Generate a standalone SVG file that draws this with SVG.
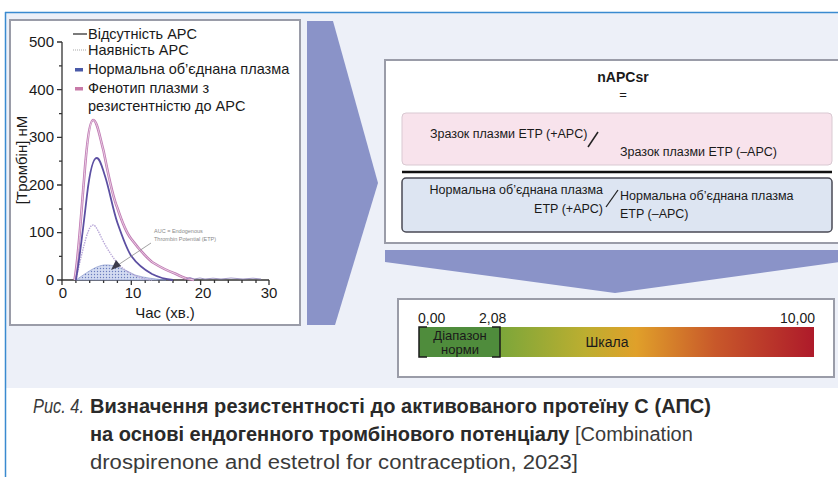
<svg xmlns="http://www.w3.org/2000/svg" width="838" height="477" viewBox="0 0 838 477">
<defs>
<style>
.t{font-family:"Liberation Sans",Arial,sans-serif;fill:#1a1a1a}
.ax{stroke:#333;stroke-width:1.3;fill:none}
.frame{fill:#fff;stroke:#9a9ca8;stroke-width:2}
.arrow{fill:#8a93c8}
.cap{font-family:"Liberation Sans",Arial,sans-serif;fill:#3a3a3a;font-size:20px}
.capb{font-weight:bold;fill:#2a2a2a}
</style>
<pattern id="dots" width="3" height="3" patternUnits="userSpaceOnUse">
<rect width="3" height="3" fill="#d3dbf1"/>
<circle cx="1.5" cy="1.5" r="0.7" fill="#6a7cbd"/>
</pattern>
<linearGradient id="scaleGrad" x1="0" y1="0" x2="1" y2="0">
<stop offset="0" stop-color="#5a9a3e"/>
<stop offset="0.2" stop-color="#7aa63a"/>
<stop offset="0.42" stop-color="#bcae30"/>
<stop offset="0.55" stop-color="#e0a02a"/>
<stop offset="0.75" stop-color="#c8582a"/>
<stop offset="1" stop-color="#ae1a2a"/>
</linearGradient>
</defs>

<!-- background -->
<rect x="5" y="12" width="833" height="376" fill="#edf0f8"/>
<line x1="5" y1="12.5" x2="838" y2="12.5" stroke="#3a8ad0" stroke-width="1.5"/>
<line x1="5.5" y1="12" x2="5.5" y2="477" stroke="#3a8ad0" stroke-width="1.5"/>

<!-- chart panel -->
<g id="chart">
<rect class="frame" x="10" y="20" width="290" height="305"/>
<path class="ax" d="M62,42 V280 H269"/>
<path class="ax" d="M57,42H62M57,89.7H62M57,137.4H62M57,185H62M57,232.7H62M57,280H62"/>
<path class="ax" d="M59,65.9H62M59,113.6H62M59,161.2H62M59,209H62M59,256.4H62" stroke-width="1"/>
<path class="ax" d="M62,280v5M131.3,280v5M200.6,280v5M269,280v5"/>
<path class="ax" stroke-width="1" d="M75.9,280v3M89.7,280v3M103.6,280v3M117.4,280v3M145.2,280v3M159,280v3M173,280v3M186.7,280v3M214.5,280v3M228.3,280v3M242,280v3M256,280v3"/>
<g class="t" font-size="15" text-anchor="end">
<text x="54" y="47">500</text>
<text x="54" y="95">400</text>
<text x="54" y="142">300</text>
<text x="54" y="190">200</text>
<text x="54" y="237">100</text>
<text x="54" y="285">0</text>
</g>
<g class="t" font-size="15" text-anchor="middle">
<text x="63" y="298">0</text>
<text x="133" y="298">10</text>
<text x="203" y="298">20</text>
<text x="269" y="298">30</text>
<text x="165" y="318">Час (хв.)</text>
</g>
<text class="t" font-size="15" text-anchor="middle" transform="translate(27,160) rotate(-90)">[Тромбін] нМ</text>

<path d="M75.9,280 C85,274 95,266 104,265 C115,264 125,270 135,275 C145,278 155,279 166,280 Z" fill="url(#dots)" stroke="#7a8cc5" stroke-width="0.6"/>
<path d="M75.9,280 C79,266 82,252 86,238 C89,228 91,225 93.2,225 C96,225 99,233 103.6,242 C109,252 114,259 117.4,263 C124,270 131,275 145,279 L152,280" fill="none" stroke="#b9a8d8" stroke-width="1.4" stroke-dasharray="1.5 1"/>
<path d="M74.5,280 C78,262 81,215 84,180 C87,140 90,120 93.2,120 C97,120 100,138 103.6,151 C107,168 112,195 117.4,208 C123,225 128,235 131.3,239 C138,248 145,256 152,262 C160,267 168,271 175,273.5 C180,276 184,278 187,278.6 L194,280" fill="none" stroke="#c07ab4" stroke-width="2.6"/>
<path d="M74.5,280 C78,262 81,215 84,180 C87,140 90,120 93.2,120 C97,120 100,138 103.6,151 C107,168 112,195 117.4,208 C123,225 128,235 131.3,239 C138,248 145,256 152,262 C160,267 168,271 175,273.5 C180,276 184,278 187,278.6 L194,280" fill="none" stroke="#f3e3ee" stroke-width="0.8"/>
<path d="M75.9,280 C79,262 83,230 87,195 C90,170 93,158 96.7,158 C100,158 102,167 105,176 C109,188 113,210 117.4,222.8 C122,236 127,250 131.3,256 C137,264 143,269 152,274 C158,277 163,279 173,280" fill="none" stroke="#5c4fa2" stroke-width="1.8"/>
<path d="M186,279 l4,-1.5 l4,1.5 l6,-1 l5,1 l8,-0.8 l8,0.8 l10,-1 l12,1 l10,-0.8 l8,0.8" fill="none" stroke="#8a7fb8" stroke-width="0.8"/>
<line x1="151" y1="243" x2="118" y2="265" stroke="#8a8a8a" stroke-width="0.8"/>
<path d="M111,270 L121,266 L116,260 Z" fill="#3c3c4c"/>
<g font-family="Liberation Sans,Arial,sans-serif" font-size="5.5" fill="#8a8a8a">
<text x="154" y="233">AUC = Endogenous</text>
<text x="154" y="241">Thrombin Potential (ETP)</text>
</g>
<rect x="68" y="24" width="231" height="94" fill="#fff"/>
<line x1="73" y1="34" x2="87" y2="34" stroke="#222" stroke-width="1.2"/>
<line x1="73" y1="50" x2="87" y2="50" stroke="#aaa" stroke-width="1.2" stroke-dasharray="1 1"/>
<rect x="75" y="68" width="8" height="3.5" fill="#4a5aa8"/>
<rect x="75" y="87" width="8" height="3.5" fill="#c87aa8"/>
<g class="t" font-size="14.5">
<text x="88" y="39">Відсутність APC</text>
<text x="88" y="55">Наявність APC</text>
<text x="88" y="74">Нормальна об’єднана плазма</text>
<text x="88" y="93">Фенотип плазми з</text>
<text x="88" y="111">резистентністю до APC</text>
</g>
</g>

<!-- connectors (big arrows) -->
<g id="connectors">
<path class="arrow" d="M307,21 L333,21 L378,183 L335,325 L307,325 Z"/>
<path class="arrow" d="M385,250 L840,250 L840,262 L615,293 L385,262 Z"/>
</g>

<!-- formula box -->
<g id="formula">
<rect class="frame" x="385" y="60" width="460" height="183"/>
<text class="t" x="623" y="82" font-size="14" font-weight="bold" text-anchor="middle">nAPCsr</text>
<text class="t" x="623" y="99" font-size="13" text-anchor="middle">=</text>
<g id="sample">
<rect x="402" y="113" width="430" height="52" rx="4" fill="#f8e3ec" stroke="#d9c9d2" stroke-width="1"/>
<text class="t" x="430" y="138" font-size="12.5">Зразок плазми ETP (+APC)</text>
<line x1="588" y1="147" x2="598" y2="132" stroke="#222" stroke-width="1.5"/>
<text class="t" x="620" y="156" font-size="12.5">Зразок плазми ETP (–APC)</text>
</g>
<line x1="402" y1="172" x2="832" y2="172" stroke="#111" stroke-width="2.5"/>
<g id="normal">
<rect x="402" y="178" width="430" height="54" rx="4" fill="#dde5f2" stroke="#4a4a55" stroke-width="1.5"/>
<text class="t" x="603" y="194" font-size="12.5" text-anchor="end">Нормальна об’єднана плазма</text>
<text class="t" x="603" y="213" font-size="12.5" text-anchor="end">ETP (+APC)</text>
<line x1="606" y1="207" x2="618" y2="190" stroke="#222" stroke-width="1.3"/>
<text class="t" x="620" y="200" font-size="12.5">Нормальна об’єднана плазма</text>
<text class="t" x="620" y="218" font-size="12.5">ETP (–APC)</text>
</g>
</g>

<!-- scale -->
<g id="scale">
<rect class="frame" x="398" y="299" width="436" height="78"/>
<rect x="419" y="327" width="395" height="30" fill="url(#scaleGrad)"/>
<rect x="419" y="327" width="81" height="30" fill="#4f8c3c"/>
<path d="M427,327H419V357H427M492,327H500V357H492" fill="none" stroke="#1a1a1a" stroke-width="1.5"/>
<g class="t" font-size="14">
<text x="418" y="323">0,00</text>
<text x="479" y="323">2,08</text>
<text x="815" y="323" text-anchor="end">10,00</text>
</g>
<g class="t" font-size="13" text-anchor="middle" fill="#1a2a10">
<text x="460" y="340">Діапазон</text>
<text x="460" y="354">норми</text>
</g>
<text class="t" x="607" y="347" font-size="14" text-anchor="middle" fill="#3a2a10">Шкала</text>
</g>

<!-- caption -->
<g id="caption">
<text class="cap" x="33" y="413" font-style="italic" font-size="19" textLength="51" lengthAdjust="spacingAndGlyphs">Рис. 4.</text>
<text class="cap capb" x="90" y="413" textLength="621">Визначення резистентності до активованого протеїну С (АПС)</text>
<text class="cap" x="90" y="441"><tspan class="capb">на основі ендогенного тромбінового потенціалу</tspan> [Combination</text>
<text class="cap" x="90" y="469" textLength="488" lengthAdjust="spacingAndGlyphs">drospirenone and estetrol for contraception, 2023]</text>
</g>
</svg>
